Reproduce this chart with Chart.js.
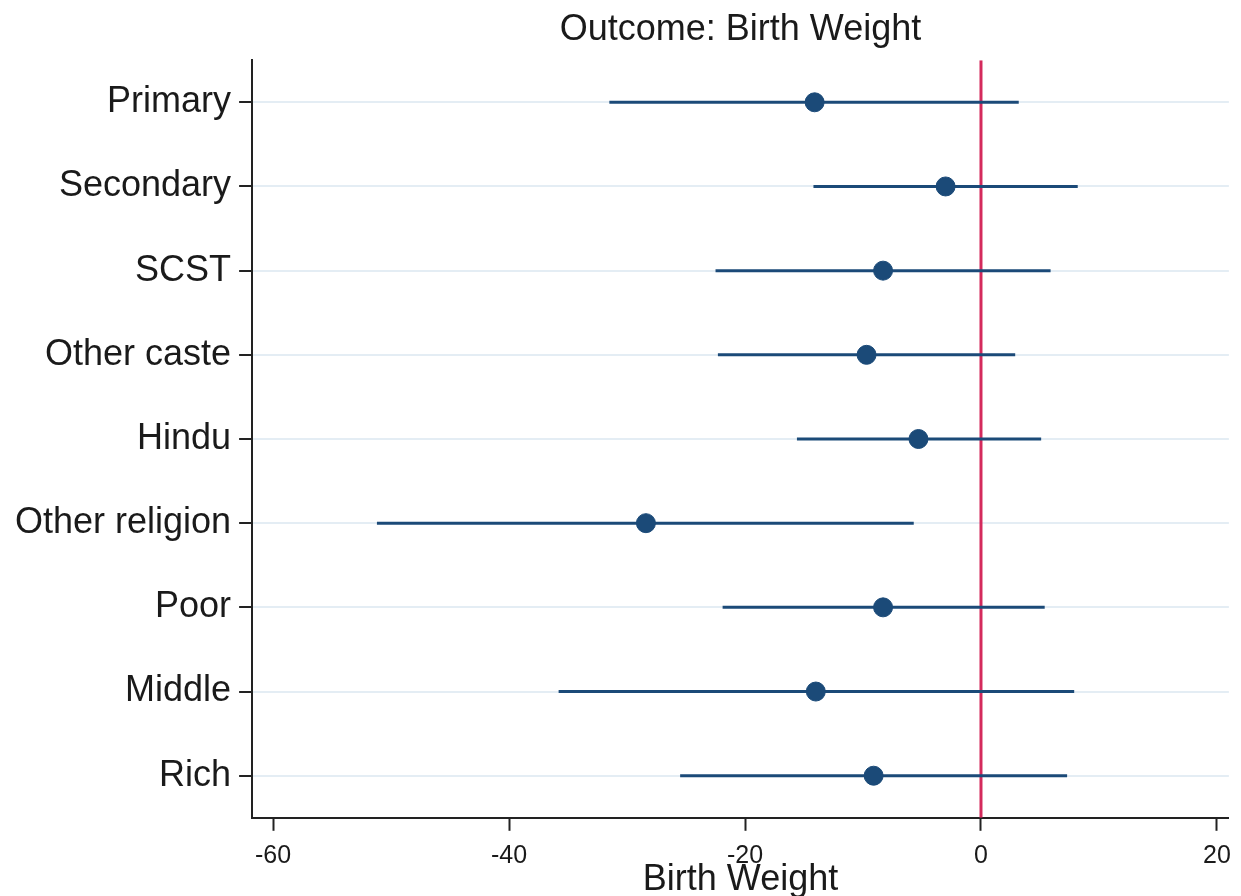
<!DOCTYPE html>
<html>
<head>
<meta charset="utf-8">
<script src="https://cdn.jsdelivr.net/npm/chart.js@4/dist/chart.umd.min.js"></script>
<style>
  html, body { margin: 0; padding: 0; background: #fff; }
  #wrap { position: relative; width: 1241px; height: 896px; }
</style>
</head>
<body>
<div id="wrap"><canvas id="myChart"></canvas></div>
<script>
// rows, top to bottom
const groups = ['Primary', 'Secondary', 'SCST', 'Other caste', 'Hindu', 'Other religion', 'Poor', 'Middle', 'Rich'];
const estimates = [-14.1, -3.0, -8.3, -9.7, -5.3, -28.4, -8.3, -14.0, -9.1];
const ciLow = [-31.5, -14.2, -22.5, -22.3, -15.6, -51.2, -21.9, -35.8, -25.5];
const ciHigh = [3.2, 8.2, 5.9, 2.9, 5.1, -5.7, 5.4, 7.9, 7.3];
const xTicks = [-60, -40, -20, 0, 20];

const navy = '#1b4a78';
const font = "'Liberation Sans', Arial, sans-serif";

const ciSets = groups.map((g, i) => ({
  type: 'line',
  label: g + ' CI',
  data: [{ x: ciLow[i], y: i }, { x: ciHigh[i], y: i }],
  borderColor: navy,
  borderWidth: 3,
  pointRadius: 0,
  order: 2
}));

const ctx = document.getElementById('myChart');
new Chart(ctx, {
  type: 'scatter',
  data: {
    datasets: [
      {
        type: 'line',
        label: 'zero',
        data: [{ x: 0, y: -0.5 }, { x: 0, y: groups.length - 0.5 }],
        borderColor: '#d42a5c',
        borderWidth: 3,
        pointRadius: 0,
        order: 3
      },
      ...ciSets,
      {
        label: 'Estimate',
        data: groups.map((g, i) => ({ x: estimates[i], y: i })),
        backgroundColor: navy,
        borderColor: navy,
        pointRadius: 9.5,
        order: 1
      }
    ]
  },
  options: {
    responsive: true,
    maintainAspectRatio: false,
    animation: false,
    layout: { padding: { left: 7, right: 0, top: 0, bottom: 0 } },
    plugins: {
      legend: { display: false },
      tooltip: { enabled: false },
      title: {
        display: true,
        fullSize: false,
        text: 'Outcome: Birth Weight',
        color: '#1a1a1a',
        font: { family: font, size: 36, weight: 'normal' },
        padding: { top: 8, bottom: 9 }
      }
    },
    scales: {
      x: {
        type: 'linear',
        min: -61.78,
        max: 21.01,
        afterBuildTicks: (axis) => {
          axis.ticks = xTicks.map(v => ({ value: v }));
        },
        grid: {
          drawOnChartArea: false,
          tickLength: 13,
          tickColor: '#222',
          tickWidth: 2
        },
        border: { display: true, color: '#222', width: 2 },
        ticks: {
          color: '#1a1a1a',
          padding: 10,
          maxRotation: 0,
          font: { family: font, size: 25 }
        },
        title: {
          display: true,
          text: 'Birth Weight',
          color: '#1a1a1a',
          font: { family: font, size: 36 },
          padding: { top: -22, bottom: -6 }
        }
      },
      y: {
        type: 'linear',
        reverse: true,
        min: -0.5,
        max: groups.length - 0.5,
        afterBuildTicks: (axis) => {
          axis.ticks = groups.map((g, i) => ({ value: i }));
        },
        grid: {
          color: '#e4edf4',
          lineWidth: 2,
          tickLength: 13,
          tickColor: '#222',
          tickWidth: 2
        },
        border: { display: true, color: '#222', width: 2 },
        ticks: {
          color: '#1a1a1a',
          padding: 8,
          font: { family: font, size: 36 },
          callback: (v) => groups[v]
        }
      }
    }
  }
});
</script>
</body>
</html>
